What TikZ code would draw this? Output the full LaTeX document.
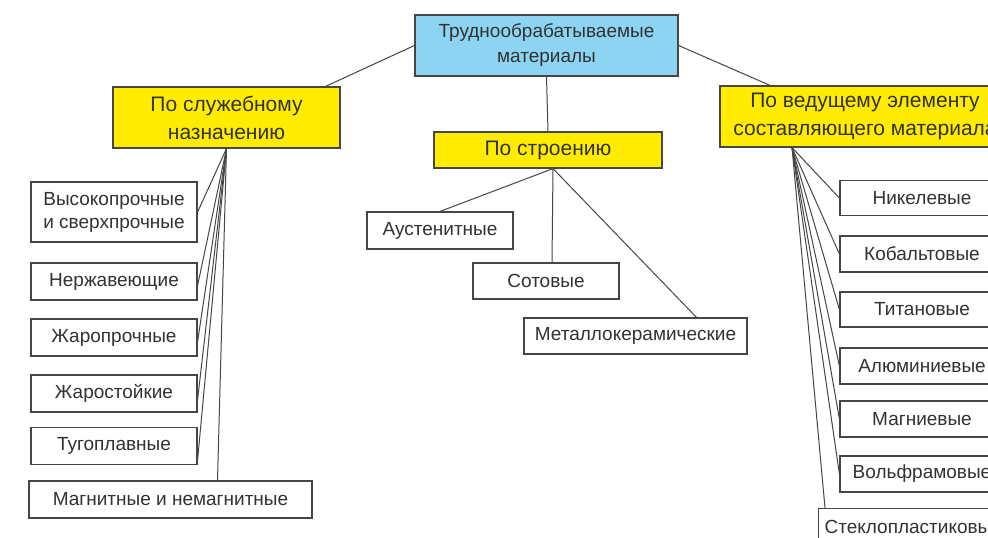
\documentclass[tikz,border=0pt]{standalone}
\usepackage{fontspec}
\setmainfont{Liberation Sans}
\definecolor{boxblue}{RGB}{140,212,242}
\definecolor{boxyellow}{RGB}{255,236,0}
\definecolor{inkgray}{RGB}{50,50,50}
\definecolor{linegray}{RGB}{70,70,70}
\begin{document}
\begin{tikzpicture}[x=1pt,y=-1pt,
  every node/.style={font=\fontsize{19}{23}\selectfont,text=inkgray,align=center,inner sep=0pt},
  head/.style={draw=linegray,fill=boxblue,line width=1.2pt,font=\fontsize{19}{25}\selectfont},
  group/.style={draw=linegray,fill=boxyellow,line width=1.2pt,font=\fontsize{21}{28}\selectfont},
  leaf/.style={draw=linegray,fill=white,line width=1.2pt},
  link/.style={draw=linegray,line width=1pt}]
\fill[white] (0,0) rectangle (988,538);
\clip (0,0) rectangle (988,538);

\node[head,minimum width=263pt,minimum height=61pt] (top) at (546.5,45.5) {Труднообрабатываемые\\материалы};
\node[group,minimum width=227pt,minimum height=61pt] (sl) at (226.5,117.5) {По служебному\\назначению};
\node[group,minimum width=228pt,minimum height=36pt] (st) at (548,150) {По строению};
\node[group,minimum width=290pt,minimum height=61pt] (sv) at (865,116.5) {По ведущему элементу\\составляющего материала};

\node[leaf,minimum width=166pt,minimum height=60pt] (vys) at (114,212) {Высокопрочные\\и сверхпрочные};
\node[leaf,minimum width=166pt,minimum height=37pt] (nerzh) at (114,281.5) {Нержавеющие};
\node[leaf,minimum width=166pt,minimum height=37pt] (zhpr) at (114,337.5) {Жаропрочные};
\node[leaf,minimum width=166pt,minimum height=37pt] (zhst) at (114,393.5) {Жаростойкие};
\node[leaf,minimum width=166pt,minimum height=37pt] (tug) at (114,446) {Тугоплавные};
\node[leaf,minimum width=283pt,minimum height=37pt] (magn) at (170.5,499.5) {Магнитные и немагнитные};

\node[leaf,minimum width=146pt,minimum height=37pt] (aust) at (440,230.5) {Аустенитные};
\node[leaf,minimum width=146pt,minimum height=36pt] (sot) at (546,281) {Сотовые};
\node[leaf,minimum width=223pt,minimum height=36pt] (met) at (635.5,336) {Металлокерамические};

\node[leaf,minimum width=164pt,minimum height=35pt] (nik) at (922,198) {Никелевые};
\node[leaf,minimum width=164pt,minimum height=36pt] (kob) at (922,254) {Кобальтовые};
\node[leaf,minimum width=164pt,minimum height=35pt] (tit) at (922,309.5) {Титановые};
\node[leaf,minimum width=164pt,minimum height=36pt] (alu) at (922,366) {Алюминиевые};
\node[leaf,minimum width=164pt,minimum height=36pt] (mag) at (922,419) {Магниевые};
\node[leaf,minimum width=164pt,minimum height=36pt] (vol) at (922,474) {Вольфрамовые};
\node[leaf,minimum height=36pt,inner xsep=6pt,anchor=north west] (stek) at (818,508) {Стеклопластиковые};

\draw[link] (top.west) -- ([xshift=99pt]sl.north);
\draw[link] (top.east) -- ([xshift=-95pt]sv.north);
\draw[link] (top.south) -- (st.north);

\draw[link] (sl.south) -- (vys.east);
\draw[link] (sl.south) -- ([yshift=-4pt]nerzh.east);
\draw[link] (sl.south) -- ([yshift=-4pt]zhpr.east);
\draw[link] (sl.south) -- ([yshift=-6pt]zhst.east);
\draw[link] (sl.south) -- ([yshift=-14pt]tug.east);
\draw[link] (sl.south) -- ([xshift=47pt]magn.north);

\draw[link] ([xshift=5pt]st.south) -- (aust.north);
\draw[link] ([xshift=5pt]st.south) -- ([xshift=6pt]sot.north);
\draw[link] ([xshift=5pt]st.south) -- ([xshift=61pt]met.north);

\draw[link] ([xshift=-73pt]sv.south) -- (nik.west);
\draw[link] ([xshift=-73pt]sv.south) -- (kob.west);
\draw[link] ([xshift=-73pt]sv.south) -- (tit.west);
\draw[link] ([xshift=-73pt]sv.south) -- (alu.west);
\draw[link] ([xshift=-73pt]sv.south) -- (mag.west);
\draw[link] ([xshift=-73pt]sv.south) -- (vol.west);
\draw[link] ([xshift=-73pt]sv.south) -- ([xshift=7pt]stek.north west);
\end{tikzpicture}
\end{document}
